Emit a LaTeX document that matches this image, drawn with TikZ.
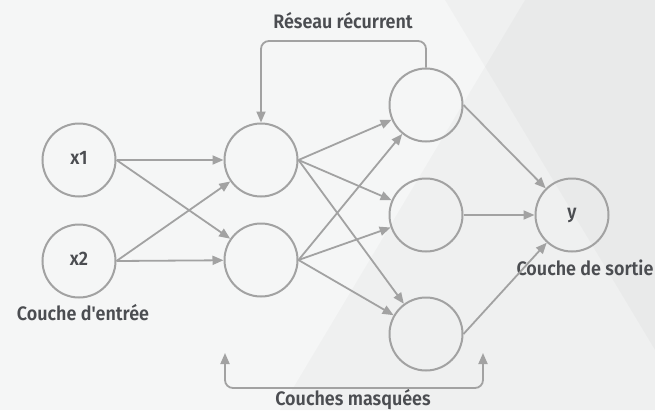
\documentclass[tikz,border=0pt]{standalone}
\usepackage{fontspec}
\newfontfamily\labfont[FakeStretch=0.92]{Fira Sans SemiBold}
\usetikzlibrary{arrows.meta}
\definecolor{bgc}{HTML}{F5F6F6}
\definecolor{linec}{HTML}{A2A2A2}
\definecolor{txtc}{HTML}{4B4D51}
\begin{document}
\begin{tikzpicture}[x=1pt,y=-1pt,
  neuron/.style={circle, draw=linec, line width=2pt, minimum size=73pt, inner sep=0pt},
  arr/.style={draw=linec, line width=1.8pt, -{Triangle[length=11pt,width=9pt]}},
  arrboth/.style={draw=linec, line width=1.8pt, {Triangle[length=11pt,width=9pt]}-{Triangle[length=11pt,width=9pt]}},
  lab/.style={text=txtc, font=\labfont\fontsize{19.5}{22}\selectfont, inner sep=0pt, anchor=base}]
\useasboundingbox (0,0) rectangle (655,410);
\fill[bgc] (0,0) rectangle (655,410);
\fill[black, opacity=0.022] (445,0) -- (655,0) -- (655,350) -- cycle;
\fill[black, opacity=0.022] (525,0) -- (655,0) -- (655,410) -- (280,410) -- cycle;

\node[neuron] (x1) at (79,160) {};
\node[neuron] (x2) at (79,261) {};
\node[neuron] (h1a) at (261,160) {};
\node[neuron] (h1b) at (261,260) {};
\node[neuron] (h2a) at (426,105) {};
\node[neuron] (h2b) at (426,215) {};
\node[neuron] (h2c) at (426,334) {};
\node[neuron] (out) at (572,215) {};

\node[lab] (tx1) at (79,164.5) {x1};
\node[lab] (tx2) at (79,265.5) {x2};
\node[lab] (ty) at (572,218.5) {y};
\node[lab] (tin) at (83,320) {Couche d'entrée};
\node[lab] (tout) at (585,275) {Couche de sortie};
\node[lab] (trec) at (343,28) {Réseau récurrent};
\node[lab] (thid) at (353,405) {Couches masquées};

\foreach \s/\t in {x1/h1a,x1/h1b,x2/h1a,x2/h1b,
                   h1a/h2a,h1a/h2b,h1a/h2c,h1b/h2a,h1b/h2b,h1b/h2c,
                   h2a/out,h2b/out,h2c/out}
  \draw[arr] (\s.east) -- (\t);

\draw[arr, rounded corners=8pt] (h2a.north) -- (h2a.north |- 0,41) -- (h1a.north |- 0,41) -- (h1a.north);

\coordinate (bl) at (225,353);
\coordinate (br) at (483,353);
\draw[arrboth, rounded corners=8pt] (bl) -- (bl |- 0,388) -- (br |- 0,388) -- (br);
\end{tikzpicture}
\end{document}
